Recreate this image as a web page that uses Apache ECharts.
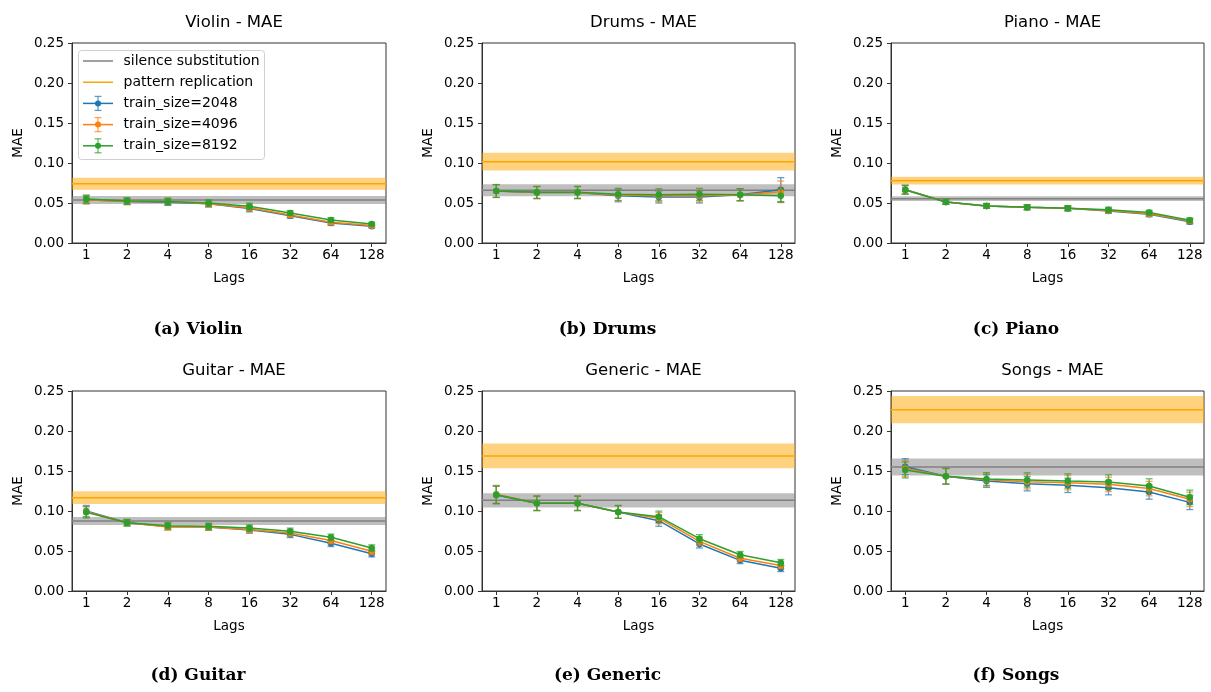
<!DOCTYPE html>
<html>
<head>
<meta charset="utf-8">
<script src="https://cdn.jsdelivr.net/npm/echarts@6/dist/echarts.min.js"></script>
<style>
html,body{margin:0;padding:0;background:#fff;}
#chart{width:1211px;height:692px;}
</style>
</head>
<body>
<div id="chart"></div>
<script>
// ---------------- DATA ----------------
const lags = ['1', '2', '4', '8', '16', '32', '64', '128'];
const trainSizes = ['train_size=2048', 'train_size=4096', 'train_size=8192'];
const yTicks = [0, 0.05, 0.10, 0.15, 0.20, 0.25];

// Violin
const violin_2048 = [0.054, 0.052, 0.051, 0.049, 0.043, 0.034, 0.025, 0.021];
const violin_4096 = [0.054, 0.052, 0.052, 0.049, 0.044, 0.035, 0.026, 0.022];
const violin_8192 = [0.055, 0.0525, 0.052, 0.050, 0.046, 0.0375, 0.0287, 0.0237];
const violin_err = [0.005, 0.004, 0.004, 0.004, 0.004, 0.003, 0.003, 0.002];
const violin_silence = [0.0537, 0.005];
const violin_pattern = [0.0741, 0.0075];

// Drums
const drums_2048 = [0.065, 0.063, 0.063, 0.059, 0.0575, 0.0575, 0.0604, 0.0667];
const drums_4096 = [0.065, 0.063, 0.063, 0.060, 0.059, 0.059, 0.060, 0.064];
const drums_8192 = [0.065, 0.0633, 0.0633, 0.0608, 0.0604, 0.0608, 0.0604, 0.059];
const drums_err_2048 = [0.008, 0.0075, 0.0075, 0.0075, 0.0075, 0.0075, 0.0075, 0.015];
const drums_err_4096 = [0.008, 0.0075, 0.0075, 0.0075, 0.0075, 0.0075, 0.0075, 0.0135];
const drums_err_8192 = [0.008, 0.0075, 0.0075, 0.0075, 0.0075, 0.0075, 0.0075, 0.008];
const drums_silence = [0.0658, 0.0075];
const drums_pattern = [0.1017, 0.011];

// Piano
const piano_2048 = [0.067, 0.0513, 0.0463, 0.0446, 0.0433, 0.040, 0.0358, 0.0267];
const piano_4096 = [0.0665, 0.0513, 0.0463, 0.0446, 0.0433, 0.0405, 0.0366, 0.0275];
const piano_8192 = [0.0663, 0.0513, 0.0463, 0.0446, 0.0433, 0.0417, 0.038, 0.0283];
const piano_err = [0.0054, 0.003, 0.003, 0.003, 0.003, 0.003, 0.003, 0.003];
const piano_silence = [0.0554, 0.003];
const piano_pattern = [0.0779, 0.0048];

// Guitar
const guitar_2048 = [0.100, 0.0854, 0.0805, 0.080, 0.0762, 0.0708, 0.0596, 0.0466];
const guitar_4096 = [0.099, 0.0854, 0.080, 0.080, 0.077, 0.0725, 0.063, 0.0496];
const guitar_8192 = [0.0983, 0.0854, 0.0817, 0.0808, 0.0787, 0.0746, 0.0671, 0.0537];
const guitar_err = [0.007, 0.004, 0.004, 0.004, 0.004, 0.004, 0.004, 0.004];
const guitar_silence = [0.0875, 0.005];
const guitar_pattern = [0.1167, 0.008];

// Generic
const generic_2048 = [0.120, 0.1096, 0.1096, 0.0988, 0.0879, 0.0588, 0.0383, 0.0283];
const generic_4096 = [0.121, 0.1096, 0.1096, 0.0988, 0.091, 0.062, 0.041, 0.032];
const generic_8192 = [0.1204, 0.1096, 0.1096, 0.0988, 0.0929, 0.0654, 0.0454, 0.0354];
const generic_err = [0.011, 0.009, 0.009, 0.008, 0.007, 0.005, 0.004, 0.004];
const generic_silence = [0.1133, 0.009];
const generic_pattern = [0.1688, 0.0155];

// Songs
const songs_2048 = [0.1554, 0.1434, 0.1375, 0.1342, 0.1321, 0.1292, 0.1238, 0.1108];
const songs_4096 = [0.153, 0.1434, 0.139, 0.1367, 0.1354, 0.1333, 0.128, 0.1146];
const songs_8192 = [0.1513, 0.1434, 0.140, 0.1388, 0.1375, 0.1363, 0.1313, 0.1171];
const songs_err = [0.010, 0.0098, 0.008, 0.009, 0.009, 0.009, 0.009, 0.009];
const songs_silence = [0.155, 0.0106];
const songs_pattern = [0.2267, 0.017];

const panels = [
  {title: 'Violin - MAE', caption: '(a) Violin', means: [violin_2048, violin_4096, violin_8192], errs: [violin_err, violin_err, violin_err], silence: violin_silence, pattern: violin_pattern},
  {title: 'Drums - MAE', caption: '(b) Drums', means: [drums_2048, drums_4096, drums_8192], errs: [drums_err_2048, drums_err_4096, drums_err_8192], silence: drums_silence, pattern: drums_pattern},
  {title: 'Piano - MAE', caption: '(c) Piano', means: [piano_2048, piano_4096, piano_8192], errs: [piano_err, piano_err, piano_err], silence: piano_silence, pattern: piano_pattern},
  {title: 'Guitar - MAE', caption: '(d) Guitar', means: [guitar_2048, guitar_4096, guitar_8192], errs: [guitar_err, guitar_err, guitar_err], silence: guitar_silence, pattern: guitar_pattern},
  {title: 'Generic - MAE', caption: '(e) Generic', means: [generic_2048, generic_4096, generic_8192], errs: [generic_err, generic_err, generic_err], silence: generic_silence, pattern: generic_pattern},
  {title: 'Songs - MAE', caption: '(f) Songs', means: [songs_2048, songs_4096, songs_8192], errs: [songs_err, songs_err, songs_err], silence: songs_silence, pattern: songs_pattern}
];

// ---------------- STYLE / LAYOUT ----------------
const FONT = 'DejaVu Sans';
const COLORS = ['#1f77b4', '#ff7f0e', '#2ca02c'];
const GRAY = '#808080', ORANGE = '#ffa500';
const XMIN = -0.35, XMAX = 7.35;
const gridLefts = [72, 482, 891];
const gridWidths = [314, 313, 313];
const gridTops = [43, 391];
const GRID_H = 200;
const captionX = [198, 607.5, 1016];
const captionY = [330, 676];
const FRAME = '#333';

const option = {
  animation: false,
  backgroundColor: '#fff',
  title: [], grid: [], xAxis: [], yAxis: [], series: [], graphic: []
};

function bandRender(params, api) {
  const c = api.value(0), e = api.value(1);
  const a = api.coord([XMIN, c + e]);
  const b = api.coord([XMAX, c - e]);
  const l1 = api.coord([XMIN, c]);
  const l2 = api.coord([XMAX, c]);
  const col = params.seriesName === 'silence substitution' ? GRAY : ORANGE;
  return {
    type: 'group',
    children: [
      {type: 'rect', shape: {x: a[0], y: a[1], width: b[0] - a[0], height: b[1] - a[1]}, style: {fill: col, opacity: 0.5}},
      {type: 'line', shape: {x1: l1[0], y1: l1[1], x2: l2[0], y2: l2[1]}, style: {stroke: col, lineWidth: 1.5}}
    ]
  };
}

function errRender(color) {
  return function (params, api) {
    const x = api.value(0), y = api.value(1), e = api.value(2);
    const t = api.coord([x, y + e]);
    const b = api.coord([x, y - e]);
    const cw = 3.5;
    const st = {stroke: color, lineWidth: 1.3, opacity: 0.7};
    return {
      type: 'group',
      children: [
        {type: 'line', shape: {x1: t[0], y1: t[1], x2: b[0], y2: b[1]}, style: st},
        {type: 'line', shape: {x1: t[0] - cw, y1: t[1], x2: t[0] + cw, y2: t[1]}, style: st},
        {type: 'line', shape: {x1: b[0] - cw, y1: b[1], x2: b[0] + cw, y2: b[1]}, style: st}
      ]
    };
  };
}

panels.forEach((p, i) => {
  const col = i % 3, row = Math.floor(i / 3);
  const left = gridLefts[col], top = gridTops[row], w = gridWidths[col];
  option.grid.push({left: left, top: top, width: w, height: GRID_H, show: true, borderColor: FRAME, borderWidth: 1, backgroundColor: 'transparent'});
  option.xAxis.push({
    type: 'value', gridIndex: i, min: XMIN, max: XMAX,
    splitLine: {show: false},
    axisLine: {show: true, onZero: false, lineStyle: {color: FRAME, width: 1}},
    axisTick: {show: true, length: 4, lineStyle: {color: FRAME}, customValues: lags.map((_, k) => k)},
    axisLabel: {customValues: lags.map((_, k) => k), formatter: v => lags[Math.round(v)], color: '#000', fontFamily: FONT, fontSize: 13.5, margin: 5}
  });
  option.yAxis.push({
    type: 'value', gridIndex: i, min: 0, max: 0.25, interval: 0.05,
    splitLine: {show: false},
    axisLine: {show: true, onZero: false, lineStyle: {color: FRAME, width: 1}},
    axisTick: {show: true, length: 4, lineStyle: {color: FRAME}},
    axisLabel: {formatter: v => v.toFixed(2), color: '#000', fontFamily: FONT, fontSize: 13.5, margin: 8}
  });
  option.title.push({
    text: p.title, left: left + w / 2, top: row === 0 ? 9 : 357, textAlign: 'center',
    textStyle: {fontFamily: FONT, fontSize: 16.5, fontWeight: 'normal', color: '#000'}
  });

  // bands
  option.series.push({name: 'silence substitution', type: 'custom', xAxisIndex: i, yAxisIndex: i, renderItem: bandRender, data: [p.silence], encode: {y: 0}, silent: true, z: 1});
  option.series.push({name: 'pattern replication', type: 'custom', xAxisIndex: i, yAxisIndex: i, renderItem: bandRender, data: [p.pattern], encode: {y: 0}, silent: true, z: 1});

  // series with error bars
  p.means.forEach((m, s) => {
    option.series.push({
      name: trainSizes[s], type: 'custom', xAxisIndex: i, yAxisIndex: i,
      renderItem: errRender(COLORS[s]),
      data: m.map((v, k) => [k, v, p.errs[s][k]]),
      encode: {x: 0, y: 1}, z: 2 + s * 2, silent: true
    });
    option.series.push({
      name: trainSizes[s], type: 'line', xAxisIndex: i, yAxisIndex: i,
      data: m.map((v, k) => [k, v]),
      symbol: 'circle', symbolSize: 6.5, showSymbol: true,
      lineStyle: {color: COLORS[s], width: 1.5},
      itemStyle: {color: COLORS[s]},
      z: 3 + s * 2, silent: true
    });
  });

  // axis labels & captions
  option.graphic.push({
    type: 'text', x: left + w / 2, y: top + GRID_H + 35,
    style: {text: 'Lags', fontFamily: FONT, fontSize: 13.5, fill: '#000', align: 'center', verticalAlign: 'middle'}
  });
  option.graphic.push({
    type: 'text', x: left - 54, y: top + GRID_H / 2, rotation: Math.PI / 2,
    style: {text: 'MAE', fontFamily: FONT, fontSize: 13.5, fill: '#000', align: 'center', verticalAlign: 'middle'}
  });
  option.graphic.push({
    type: 'text', x: captionX[col], y: captionY[row],
    style: {text: p.caption, fontFamily: 'DejaVu Serif', fontWeight: 'bold', fontSize: 17, fill: '#000', align: 'center', verticalAlign: 'middle'}
  });
});

// legend (drawn in the first panel)
const legendItems = [
  {label: 'silence substitution', color: GRAY, err: false},
  {label: 'pattern replication', color: ORANGE, err: false},
  {label: trainSizes[0], color: COLORS[0], err: true},
  {label: trainSizes[1], color: COLORS[1], err: true},
  {label: trainSizes[2], color: COLORS[2], err: true}
];
const legChildren = [
  {type: 'rect', shape: {x: 78.5, y: 50.5, width: 186, height: 109, r: 3}, style: {fill: 'rgba(255,255,255,0.8)', stroke: '#d0d0d0', lineWidth: 1}}
];
legendItems.forEach((it, k) => {
  const y = 61 + k * 21.2;
  legChildren.push({type: 'line', shape: {x1: 83, y1: y, x2: 113, y2: y}, style: {stroke: it.color, lineWidth: 1.5}});
  if (it.err) {
    const st = {stroke: it.color, lineWidth: 1.3, opacity: 0.7};
    legChildren.push({type: 'line', shape: {x1: 98, y1: y - 7, x2: 98, y2: y + 7}, style: st});
    legChildren.push({type: 'line', shape: {x1: 94.5, y1: y - 7, x2: 101.5, y2: y - 7}, style: st});
    legChildren.push({type: 'line', shape: {x1: 94.5, y1: y + 7, x2: 101.5, y2: y + 7}, style: st});
    legChildren.push({type: 'circle', shape: {cx: 98, cy: y, r: 3}, style: {fill: it.color}});
  }
  legChildren.push({type: 'text', x: 123.5, y: y, style: {text: it.label, fontFamily: FONT, fontSize: 14, fill: '#000', align: 'left', verticalAlign: 'middle'}});
});
option.graphic.push({type: 'group', children: legChildren, z: 100});

const chart = echarts.init(document.getElementById('chart'), null, {renderer: 'canvas'});
chart.setOption(option);
</script>
</body>
</html>
